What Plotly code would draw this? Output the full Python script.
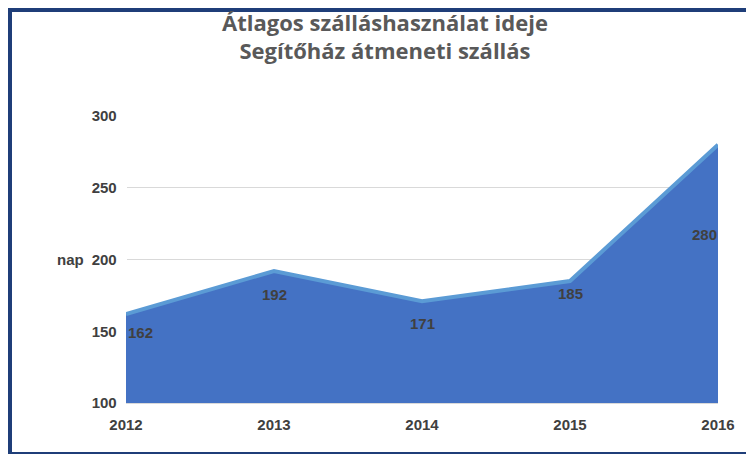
import plotly.graph_objects as go

years = ["2012", "2013", "2014", "2015", "2016"]
values = [162, 192, 171, 185, 280]
label_xshift = [14, 0, 0, 0, -14]
label_yshift = [-18, -24, -22, -12, -90]

W, H = 754, 454
ml, mr, mt, mb = 118, 44, 108, 59
pw, ph = W - ml - mr, H - mt - mb

fig = go.Figure(go.Scatter(
    x=list(range(len(years))), y=values, mode="lines", fill="tozeroy",
    fillcolor="#4472C4", line=dict(color="#5B9BD5", width=4)))

for i, (v, xs, ys) in enumerate(zip(values, label_xshift, label_yshift)):
    fig.add_annotation(x=i, y=v, text=f"<b>{v}</b>", showarrow=False,
                       xshift=xs, yshift=ys,
                       font=dict(family="Liberation Sans", size=15, color="#404040"))

fig.add_annotation(xref="paper", yref="y", x=-71 / pw, y=200, text="<b>nap</b>",
                   showarrow=False, font=dict(family="Liberation Sans", size=15, color="#404040"))

fig.add_shape(type="rect", xref="paper", yref="paper",
              x0=-(ml - 2) / pw, x1=1 + (mr - 8) / pw,
              y0=-(mb - 8) / ph, y1=1 + (mt - 2) / ph,
              line=dict(color="#1F3E79", width=4), layer="above")

fig.update_layout(
    width=W, height=H, margin=dict(l=ml, r=mr, t=mt, b=mb),
    paper_bgcolor="white", plot_bgcolor="white", showlegend=False,
    title=dict(text="<b>Átlagos szálláshasználat ideje<br>Segítőház átmeneti szállás</b>",
               x=0.5, xanchor="center", y=0.95, yanchor="top",
               font=dict(family="Open Sans", size=22, color="#595959")),
    xaxis=dict(range=[0, 4], tickmode="array", tickvals=list(range(len(years))),
               ticktext=[f"<b>{y}</b>" for y in years],
               showgrid=False, showline=True, linecolor="#D9D9D9",
               ticks="outside", ticklen=8, tickcolor="rgba(0,0,0,0)",
               tickfont=dict(family="Liberation Sans", size=15, color="#404040")),
    yaxis=dict(range=[100, 300], dtick=50, gridcolor="#D9D9D9", zeroline=False,
               tickfont=dict(family="Liberation Sans", size=15, color="#404040"),
               tickprefix="<b>", ticksuffix="</b>  "),
)

fig.write_html("out.html")
